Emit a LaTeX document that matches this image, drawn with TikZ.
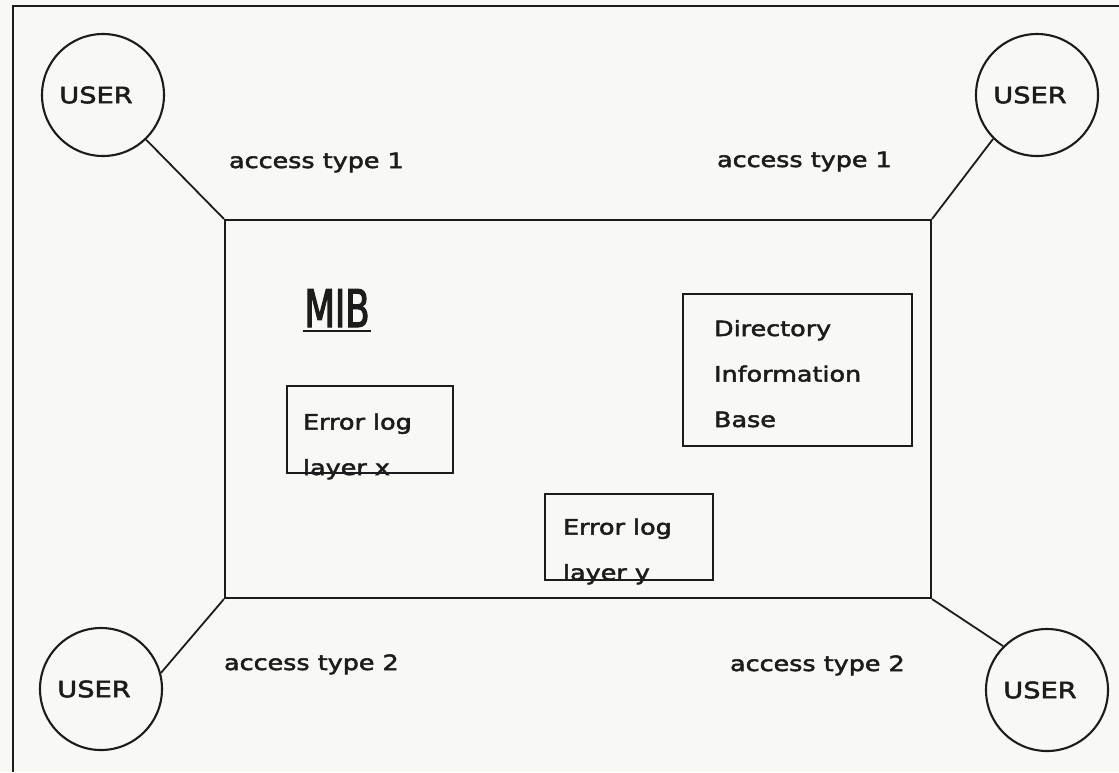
\documentclass[tikz,border=0pt]{standalone}
\usepackage{fontspec}
\setmainfont{DejaVu Sans}[FakeStretch=1.21,FakeBold=2.4]
\newfontfamily\mibfont{DejaVu Sans}[FakeStretch=0.68,FakeBold=2.2]
\usetikzlibrary{calc}
\definecolor{paper}{RGB}{248,248,245}
\definecolor{ink}{RGB}{28,28,28}
\begin{document}
\begin{tikzpicture}[x=1pt,y=-1pt,line width=2.1pt,draw=ink,text=ink,
  user/.style={circle,draw,minimum size=122pt,inner sep=0pt,
    font=\fontsize{22.5}{26}\selectfont},
  panel/.style={draw,rectangle,inner sep=0pt},
  lbl/.style={anchor=base west,inner sep=0pt,align=left,
    font=\fontsize{21}{45.5}\selectfont},
  link/.style={line width=1.8pt}]
  % page and outer frame
  \fill[paper] (0,0) rectangle (1119,772);
  \useasboundingbox (0,0) rectangle (1119,772);
  \draw (13,772) -- (13,6) -- (1119,6);

  % management information base
  \node[panel,minimum width=706pt,minimum height=378pt] (mib) at (578,409) {};
  \node[inner sep=0pt,anchor=base,font=\mibfont\fontsize{52}{60}\selectfont] (mibtitle) at (337,327) {MIB};
  \draw[line width=2.4pt] ($(mibtitle.base west)+(0,4)$) -- ($(mibtitle.base east)+(0,4)$);

  % contained stores (multi-line labels are placed by their last baseline)
  \node[panel,minimum width=166pt,minimum height=87pt] (logx) at (370,429.5) {};
  \node[panel,minimum width=168pt,minimum height=86pt] (logy) at (629,537) {};
  \node[panel,minimum width=229pt,minimum height=152pt] (dib) at (797.5,370) {};
  \node[lbl] (logxtext) at (302,475) {Error log\\layer x};
  \node[lbl] (logytext) at (562,580) {Error log\\layer y};
  \node[lbl] (dibtext) at (713,427) {Directory\\Information\\Base};

  % users
  \node[user] (uTL) at (103,95) {USER\kern14pt};
  \node[user] (uTR) at (1037,95) {USER\kern14pt};
  \node[user] (uBL) at (101,689) {USER\kern14pt};
  \node[user] (uBR) at (1047,690) {USER\kern14pt};

  % access paths
  \draw[link] (uTL.-46) -- (mib.north west);
  \draw[link] (uTR.225) -- (mib.north east);
  \draw[link] (uBL.15) -- (mib.south west);
  \draw[link] (uBR.135) -- (mib.south east);

  \node[lbl] (acc1l) at (228,168) {access type 1};
  \node[lbl] (acc1r) at (716,167) {access type 1};
  \node[lbl] (acc2l) at (223,670) {access type 2};
  \node[lbl] (acc2r) at (729,671) {access type 2};
\end{tikzpicture}
\end{document}
